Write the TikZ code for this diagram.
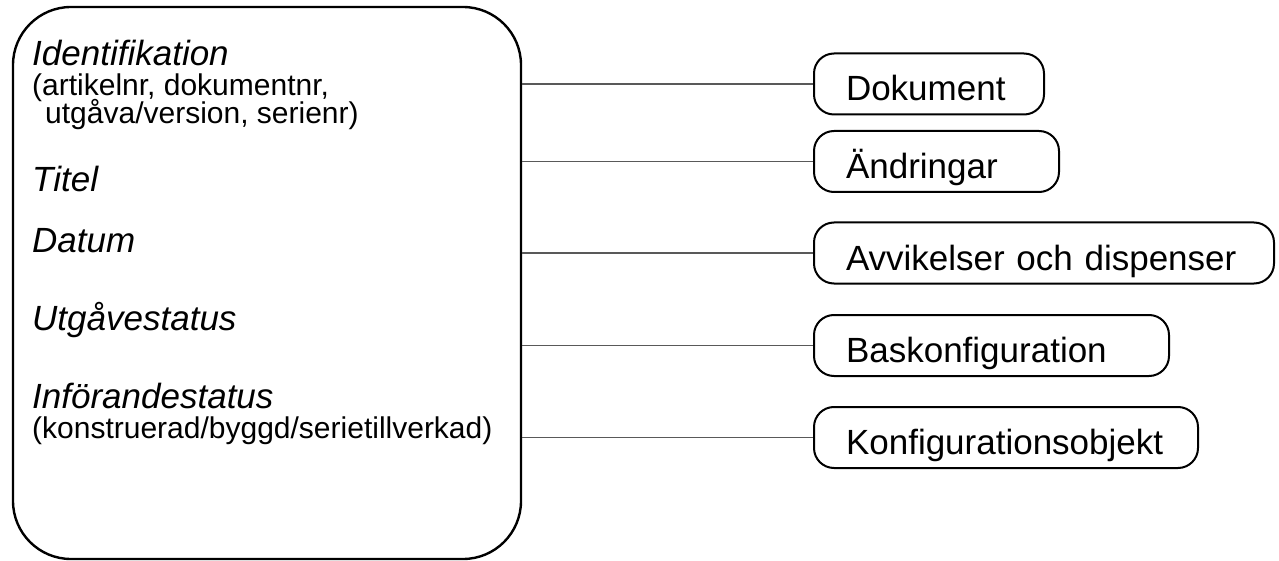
\documentclass[tikz,border=0pt]{standalone}
\usepackage{fontspec}
\setmainfont{Liberation Sans}
\begin{document}
\begin{tikzpicture}[x=1pt,y=-1pt,
  frame/.style={draw=black, line width=2.4pt, rounded corners=58pt,
    minimum width=508pt, minimum height=552pt, inner sep=0pt},
  itembox/.style={draw=black, line width=2pt, rounded corners=20pt, anchor=west,
    minimum height=61pt, inner xsep=32pt, inner ysep=0pt, align=left,
    text height=34pt, text depth=0pt, font=\fontsize{35}{42}\selectfont},
  head/.style={anchor=base west, inner sep=0pt, text depth=0pt,
    font=\fontsize{35}{42}\selectfont\itshape},
  sub/.style={anchor=base west, inner sep=0pt, text height=21pt, text depth=5pt,
    font=\fontsize{30}{36}\selectfont},
  link/.style={draw=black!65, line width=1.2pt}]
\useasboundingbox (0,0) rectangle (1279,561);

% attribute frame
\node[frame] (item) at (267,283) {};

\node[head] (ident) at (32,66) {Identifikation};
\node[sub] (identa) at (32,96) {(artikelnr, dokumentnr,};
\node[sub] (identb) at (45,124) {utgåva/version, serienr)};
\node[head] (titel) at (32,192) {Titel};
\node[head] (datum) at (32,253) {Datum};
\node[head] (utg) at (32,330) {Utgåvestatus};
\node[head] (inf) at (32,408) {Införandestatus};
\node[sub] (infa) at (32,438) {(konstruerad/byggd/serietillverkad)};

% related items
\node[itembox, text width=166pt] (dok) at (813,84) {Dokument};
\node[itembox, text width=181pt] (andr) at (813,161.5) {Ändringar};
\node[itembox, text width=396pt] (avv) at (813,253) {Avvikelser och dispenser};
\node[itembox, text width=291pt] (bas) at (813,345.5) {Baskonfiguration};
\node[itembox, text width=320pt] (konf) at (813,437.5) {Konfigurationsobjekt};

% connectors
\foreach \t in {dok,andr,avv,bas,konf}
  \draw[link] (item.east |- \t.west) -- (\t.west);
\end{tikzpicture}
\end{document}
